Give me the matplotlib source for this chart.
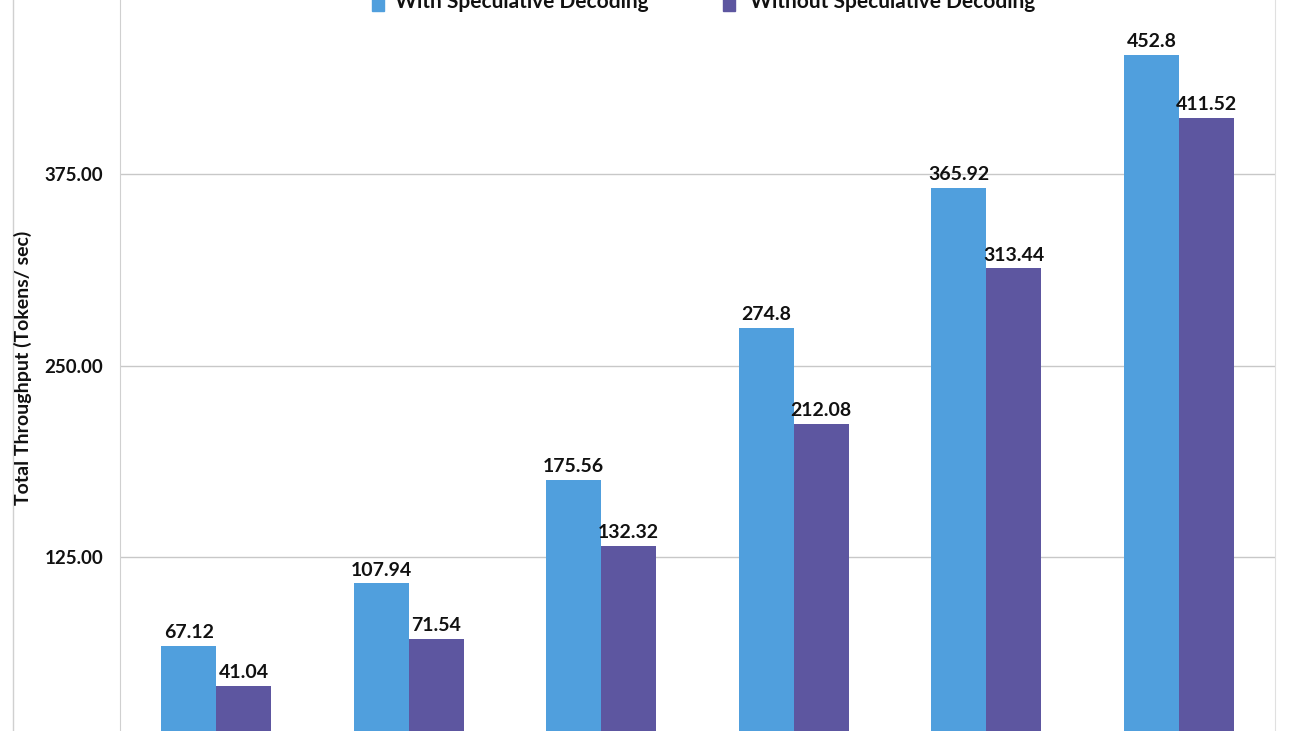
import numpy as np
import matplotlib.pyplot as plt
from matplotlib.lines import Line2D
from matplotlib.patches import Rectangle

plt.rcParams['font.family'] = ['Lato', 'DejaVu Sans']
plt.rcParams['font.weight'] = 'bold'

# throughput values (tokens/sec), one per batch group
with_spec = [67.12, 107.94, 175.56, 274.8, 365.92, 452.8]
without_spec = [41.04, 71.54, 132.32, 212.08, 313.44, 411.52]
series_names = ['With Speculative Decoding', 'Without Speculative Decoding']
yticks = [125, 250, 375]

c_with = '#509FDD'
c_without = '#5D56A0'

fig = plt.figure(figsize=(13, 7.31), dpi=100)
# plot area spans x 120..1275 px; y axis is cut off at the image bottom
ax = fig.add_axes([120 / 1300, 0, 1155 / 1300, 1])
px_per_unit = 191.5 / 125
y0_px = 557 + 191.5
ax.set_ylim((y0_px - 731) / px_per_unit, y0_px / px_per_unit)

x = np.arange(len(with_spec))
w = 0.285
b1 = ax.bar(x - w / 2, with_spec, w, color=c_with, zorder=3)
b2 = ax.bar(x + w / 2, without_spec, w, color=c_without, zorder=3)

for bars, vals in [(b1, with_spec), (b2, without_spec)]:
    for r, v in zip(bars, vals):
        ax.text(r.get_x() + r.get_width() / 2, v + 3, f'{v:g}',
                ha='center', va='bottom', fontsize=14, fontweight='bold', color='#111111')

ax.set_xlim(-0.5, len(with_spec) - 0.5)
ax.set_yticks(yticks)
ax.set_yticklabels([f'{t:.2f}' for t in yticks], fontsize=13.5, fontweight='bold', color='#111111')
ax.tick_params(axis='y', length=0, pad=12)
ax.set_xticks([])
ax.grid(axis='y', color='#c8c8c8', linewidth=1, zorder=0)
for s in ['top', 'bottom']:
    ax.spines[s].set_visible(False)
ax.spines['left'].set_color('#d0d0d0')
ax.spines['right'].set_color('#e0e0e0')

fig.text(23 / 1300, 1 - 368 / 731, 'Total Throughput (Tokens/ sec)', rotation=90,
         ha='center', va='center', fontsize=14, fontweight='bold', color='#111111')

# outer chart frame line on the left
fig.add_artist(Line2D([13 / 1300, 13 / 1300], [0, 1], color='#d0d0d0', linewidth=1))

# legend (cut off at the top of the image, as in the source)
for sx, tx, col, name in [(372, 395, c_with, series_names[0]), (723, 750, c_without, series_names[1])]:
    fig.add_artist(Rectangle((sx / 1300, 1 - 11 / 731), 12 / 1300, 13 / 731,
                             color=col, transform=fig.transFigure))
    fig.text(tx / 1300, 1 - 8 / 731, name, ha='left', va='baseline',
             fontsize=15, fontweight='bold', color='#111111')

fig.savefig('out.png', dpi=100)
